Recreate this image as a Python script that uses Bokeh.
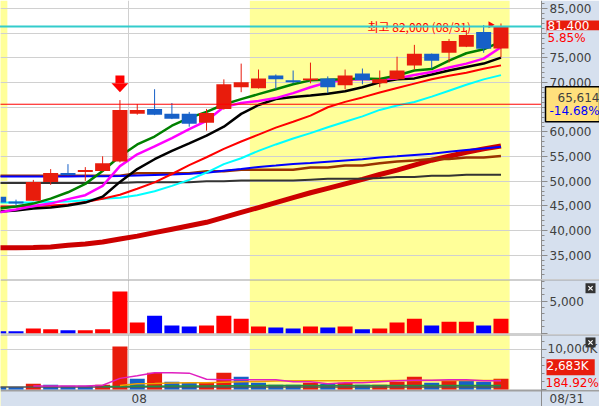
import math
from bokeh.plotting import figure
from bokeh.layouts import column
from bokeh.models import (ColumnDataSource, BoxAnnotation, Label, Span, Range1d, LinearAxis,
                          SingleIntervalTicker, FixedTicker, NumeralTickFormatter)
from bokeh.embed import file_html
from bokeh.resources import INLINE

# ---------------- data ----------------
idx = list(range(30))
opens  = [46860, 45860, 46060, 49860, 51660, 51860, 52060, 54000, 63660, 64660,
          63660, 63660, 61860, 64660, 69060, 68860, 71460, 70460, 70660, 70860,
          69460, 71860, 69860, 70660, 73460, 75860, 76060, 77260, 80260, 76900]
highs  = [47000, 46260, 50260, 52460, 53460, 52860, 55060, 66460, 65660, 68660,
          65860, 64060, 64660, 70660, 73860, 72660, 71660, 72460, 74060, 71260,
          72660, 72860, 72460, 75260, 77660, 75900, 78860, 80660, 81660, 82000]
lows   = [45600, 45060, 46000, 49260, 51200, 50060, 52000, 53800, 63500, 63400,
          62600, 61060, 60260, 64500, 68060, 68800, 68660, 69860, 69860, 67860,
          68660, 69660, 69060, 70600, 72660, 72860, 74060, 77200, 76060, 75100]
closes = [45660, 45460, 49860, 51660, 51260, 52260, 53660, 64460, 64460, 63460,
          62660, 61660, 63860, 69660, 70060, 70860, 70660, 70260, 70860, 69060,
          71460, 70460, 70660, 72460, 75860, 74460, 78460, 79660, 76860, 81400]

ma_green   = [44460, 44860, 45460, 46460, 47760, 49460, 52060, 55060, 57460, 59060,
              61260, 62860, 64060, 65560, 66660, 67660, 68660, 69660, 70460, 70560,
              70660, 70860, 70760, 71460, 72460, 72760, 74460, 75960, 76760, 78320]
ma_magenta = [43660, 44260, 44960, 45460, 46360, 47160, 49060, 53060, 55460, 57060,
              58760, 60560, 62260, 65060, 65860, 66260, 66860, 67860, 69060, 70060,
              70560, 70660, 70660, 70860, 71560, 72160, 73060, 73860, 74860, 77160]
ma_black   = [43860, 44060, 44460, 44660, 45060, 45660, 46860, 49860, 52460, 54460,
              56160, 57660, 59260, 61060, 63660, 65460, 66660, 67060, 67400, 67760,
              68260, 69060, 70060, 70660, 70860, 71660, 72460, 73160, 73860, 75060]
ma_red     = [44860, 44860, 44960, 45060, 45260, 45760, 46460, 47260, 48460, 49760,
              51460, 53260, 54860, 56560, 58060, 59460, 60860, 62060, 63300, 65000,
              66100, 67000, 68000, 68900, 69800, 70700, 71400, 72000, 72800, 73500]
ma_cyan    = [45660, 45660, 45660, 45760, 45860, 46160, 46460, 46660, 47160, 47960,
              49060, 50260, 51760, 53460, 54660, 56160, 57460, 58660, 59760, 60960,
              62060, 63160, 64460, 65360, 66060, 67160, 68360, 69560, 70660, 71520]
ma_blue    = [50960, 50960, 50960, 50960, 50960, 51000, 51020, 51060, 51160, 51260,
              51360, 51500, 51720, 52100, 52480, 52880, 53180, 53500, 53700, 53960,
              54220, 54460, 54800, 55040, 55320, 55560, 56000, 56340, 56660, 57000]
ma_brown   = [51120, 51120, 51120, 51120, 51120, 51120, 51120, 51120, 51600, 51600,
              51600, 51600, 52000, 52000, 52320, 52320, 52320, 52320, 52800, 52800,
              53200, 53200, 53660, 54000, 54200, 54520, 54520, 54800, 54800, 55120]
ma_gray    = [49660, 49660, 49660, 49660, 49660, 49660, 49660, 49660, 49800, 49800,
              49800, 49800, 50000, 50000, 50120, 50120, 50120, 50120, 50320, 50520,
              50520, 50520, 50660, 50860, 50860, 51120, 51120, 51320, 51320, 51320]
ma_thick   = [36520, 36520, 36560, 36660, 37000, 37260, 37660, 38260, 38860, 39560,
              40260, 40960, 41660, 42660, 43660, 44660, 45660, 46660, 47660, 48560,
              49460, 50360, 51360, 52260, 53260, 54260, 55060, 55860, 56560, 57160]

vol1 = [300, 300, 750, 600, 450, 450, 600, 6500, 1650, 2700,
        1200, 1050, 1200, 2700, 2250, 1050, 900, 750, 1050, 900,
        1050, 600, 750, 1650, 2250, 1200, 1800, 1800, 1200, 2250]

vol2 = [600, 600, 1425, 1175, 925, 925, 1175, 10675, 2675, 4175,
        1925, 1675, 1675, 4175, 3175, 1675, 1175, 1175, 1675, 1425,
        1675, 1175, 1175, 1925, 3175, 1675, 2175, 2175, 1925, 2683]
vol2_up = [0, 0, 1, 0, 0, 0, 1, 1, 0, 1, 0, 0, 1, 1, 0, 0, 0, 0, 1, 0,
           1, 0, 1, 1, 1, 0, 1, 0, 0, 1]
nan = float("nan")
v2_magenta = [nan, nan, 850, 850, 850, 850, 1050, 2750, 3425, 4175,
              4175, 4050, 2550, 2425, 2425, 2425, 2425, 1925, 1925, 1425,
              1675, 1675, 1925, 2175, 2300, 2300, 2425, 2425, 2175, 2175]
v2_orange  = [nan, nan, nan, nan, nan, nan, nan, 1000, 1425, 1500,
              1600, 1675, 1675, 1800, 1925, 2000, 2100, 2175, 2175, 2175,
              2175, 2175, 2175, 2250, 2250, 2250, 2250, 2250, 2250, 2250]
v2_green   = [nan, nan, nan, nan, nan, nan, 740, 750, 775, 800,
              825, 850, 875, 900, 925, 950, 975, 1000, 1000, 1000,
              1000, 1000, 1000, 1000, 1000, 1000, 1000, 1000, 1000, 1000]
v2_gray    = [600] * 30

last_price = 81400
ref_price = 65614
signal_idx = 7
month_break = 7.5
yellow_spans = [(-2, 0.5), (14.5, 29.5)]

# ---------------- styles ----------------
RED = "#e81c0c"
BLUE = "#1660c8"
YEL = "#ffff99"
PANEL = "#d6e0ee"
GRID = "#d0d0d0"
AXC = "#8c8c8c"
SEP = "#a0a0a0"
TXT = "#404040"
BOXY = "#ffe07c"
FONT = "DejaVu Sans"

PX = 17.32      # pixels per bar
X0 = -1.8       # pixel centre of bar 0
AXIS_PX = 541   # price axis position
TOTAL_W = 599


def px2x(p):
    return (p - X0) / PX


x_range = Range1d(px2x(0), px2x(TOTAL_W))
AX_X = px2x(AXIS_PX)
X_LEFT = px2x(-2)


def make_fig(fh, yr):
    p = figure(frame_width=TOTAL_W, frame_height=fh, x_range=x_range, y_range=yr,
               y_axis_location=None, x_axis_location=None,
               toolbar_location=None, output_backend="svg",
               min_border_left=0, min_border_top=0, min_border_right=0,
               min_border_bottom=0, border_fill_color=PANEL,
               background_fill_color="white", outline_line_color=None)
    for a, b in yellow_spans:
        p.add_layout(BoxAnnotation(left=a, right=b, fill_color=YEL, fill_alpha=1,
                                   line_color=None, level="image"))
    p.xgrid.ticker = FixedTicker(ticks=[month_break])
    p.xgrid.grid_line_color = GRID
    p.ygrid.grid_line_color = GRID
    # right-hand scale panel (covers grid lines there)
    p.add_layout(BoxAnnotation(left=AX_X, fill_color=PANEL, fill_alpha=1,
                               line_color=None, level="underlay"))
    return p


def style_axis(ax, tick_out=6, standoff=2):
    ax.axis_line_color = AXC
    ax.major_tick_line_color = AXC
    ax.minor_tick_line_color = AXC
    ax.major_tick_out = tick_out
    ax.major_tick_in = 0
    ax.minor_tick_out = 3
    ax.minor_tick_in = 0
    ax.major_label_standoff = standoff
    ax.major_label_text_font = FONT
    ax.major_label_text_font_size = "12px"
    ax.major_label_text_color = TXT
    return ax


def label(p, px, y, text, color=TXT, **kw):
    p.add_layout(Label(x=px2x(px), y=y, text=text, text_font=FONT, text_font_size="12px",
                       text_color=color, text_baseline="middle", text_align="left", **kw))


def close_button(p, y):
    bx = px2x(590)
    p.scatter([bx], [y], marker="square", size=10, fill_color="#333333",
              line_color=None, level="overlay")
    p.scatter([bx], [y], marker="x", size=6, line_color="white", line_width=1.2,
              level="overlay")


# ---------------- main price panel ----------------
p1 = make_fig(279, Range1d(30060, 86660))
ax1 = style_axis(LinearAxis(fixed_location=AX_X,
                            ticker=SingleIntervalTicker(interval=5000, num_minor_ticks=5),
                            formatter=NumeralTickFormatter(format="0,0")))
p1.add_layout(ax1, "right")
p1.ygrid.ticker = SingleIntervalTicker(interval=5000)

ma_specs = [
    (ma_thick, "#cc0000", 5),
    (ma_gray, "#333333", 2),
    (ma_brown, "#993300", 2.5),
    (ma_blue, "#0000ff", 2),
    (ma_cyan, "#00ffff", 2),
    (ma_red, "#ff0000", 2),
    (ma_black, "#000000", 2.5),
    (ma_magenta, "#ff00ff", 2.5),
    (ma_green, "#008000", 2.5),
]
for ys, col, w in ma_specs:
    p1.line(idx, ys, line_color=col, line_width=w)

ccol = [RED if c >= o else BLUE for o, c in zip(opens, closes)]
btop = [max(o, c) for o, c in zip(opens, closes)]
bbot = [min(o, c) for o, c in zip(opens, closes)]
bbot = [b if t - b >= 400 else t - 400 for t, b in zip(btop, bbot)]
src = ColumnDataSource(dict(x=idx, h=highs, l=lows, top=btop, bot=bbot, col=ccol))
p1.segment(x0="x", y0="l", x1="x", y1="h", line_color="col", line_width=1, source=src)
p1.vbar(x="x", width=0.866, top="top", bottom="bot", fill_color="col",
        line_color=None, source=src)

# signal arrow above the signal candle
sx = idx[signal_idx]
sh = highs[signal_idx]
p1.patch([sx - 0.49, sx + 0.49, sx], [sh + 3400, sh + 3400, sh + 1600],
         fill_color="#ff0000", line_color=None)
p1.quad(left=[sx - 0.26], right=[sx + 0.26], bottom=[sh + 3400], top=[sh + 5000],
        fill_color="#ff0000", line_color=None)

# high marker text + small arrow
p1.add_layout(Label(x=px2x(367), y=max(highs) - 560, text="최고 82,000 (08/31)",
                    text_font="Noto Sans CJK KR", text_font_size="12px",
                    text_color="#ff0000", text_baseline="middle", text_align="left"))
p1.scatter([px2x(490)], [max(highs) - 250], marker="triangle", angle=-math.pi / 2,
           size=7, fill_color="#ff0000", line_color=None)

# reference price line and last price line (stop at the scale)
p1.segment(x0=[X_LEFT], y0=[ref_price], x1=[AX_X], y1=[ref_price],
           line_color="#ff0000", line_width=1)
p1.segment(x0=[X_LEFT], y0=[last_price], x1=[AX_X], y1=[last_price],
           line_color="#33cccc", line_width=2, level="overlay")

# right-side price labels
label(p1, 546, last_price, "81,400", "white", background_fill_color=RED,
      padding=(1, 13, 1, 2))
label(p1, 546, 78800, "5.85%", "#ff0000", background_fill_color=PANEL,
      padding=(1, 14, 1, 3))
label(p1, 545, ref_price, "-14.68%\n-14.68%", BOXY,
      background_fill_color=BOXY, border_line_color="#000000",
      border_line_width=1.5, padding=(1, 3, 1, 3))
label(p1, 557, 67080, "65,614", TXT)
label(p1, 549, 64240, "-14.68%", "#0000ff")

# ---------------- volume panel 1 ----------------
p2 = make_fig(55, Range1d(-200, 8360))
ax2 = style_axis(LinearAxis(fixed_location=AX_X,
                            ticker=SingleIntervalTicker(interval=5000, num_minor_ticks=5),
                            formatter=NumeralTickFormatter(format="0,0")))
ax2.major_label_overrides = {0: ""}
p2.add_layout(ax2, "right")
p2.ygrid.ticker = SingleIntervalTicker(interval=5000)
vcol1 = ["#ff0000" if c >= o else "#0000ff" for o, c in zip(opens, closes)]
p2.vbar(x=idx, width=0.866, top=vol1, bottom=0, fill_color=vcol1, line_color=None)
p2.add_layout(Span(location=8360, dimension="width", line_color=SEP, line_width=2))
close_button(p2, 7000)

# ---------------- volume panel 2 (+ date row) ----------------
V2_TOP = 13675
V2_BOT = -325
p3 = make_fig(72, Range1d(-4250, V2_TOP))
ax3 = style_axis(LinearAxis(fixed_location=AX_X, bounds=(V2_BOT, V2_TOP),
                            ticker=SingleIntervalTicker(interval=10000, num_minor_ticks=5),
                            formatter=NumeralTickFormatter(format="0,0")),
                 tick_out=5, standoff=1)
ax3.major_label_overrides = {0: "", 10000: "10,000K"}
p3.add_layout(ax3, "right")
p3.ygrid.ticker = SingleIntervalTicker(interval=10000)
vcol2 = [RED if u else BLUE for u in vol2_up]
p3.vbar(x=idx, width=0.866, top=vol2, bottom=0, fill_color=vcol2, line_color=None)
p3.line(idx, v2_gray, line_color="#555555", line_width=1.5)
p3.line(idx, v2_green, line_color="#209040", line_width=1.5)
p3.line(idx, v2_orange, line_color="#f0a000", line_width=1.5)
p3.line(idx, v2_magenta, line_color="#e020c0", line_width=1.5)
p3.add_layout(Span(location=V2_TOP, dimension="width", line_color=SEP, line_width=2))
close_button(p3, 11700)
label(p3, 546, 5500, "2,683K", "white", background_fill_color=RED, padding=(0, 6, 0, 2))
label(p3, 545, 1600, "184.92%", "#ff0000")

# date row
p3.add_layout(BoxAnnotation(top=V2_BOT, fill_color=PANEL, fill_alpha=1,
                            line_color=None, level="underlay"))
p3.add_layout(Span(location=V2_BOT, dimension="width", line_color=SEP, line_width=1.5))
p3.add_layout(Span(location=AX_X, dimension="height", line_color=AXC, line_width=1))
label(p3, 131, -2350, "08")
label(p3, 549, -2350, "08/31")

layout = column(p1, p2, p3, spacing=0)
open("out.html", "w").write(file_html(layout, INLINE))
